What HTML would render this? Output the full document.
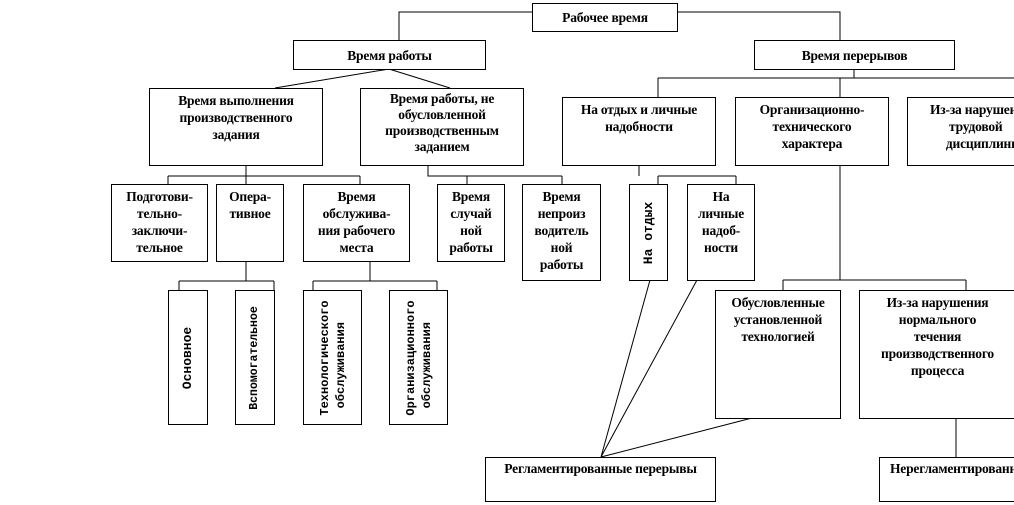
<!DOCTYPE html>
<html><head><meta charset="utf-8"><style>
body{margin:0;width:1014px;height:505px;background:#fff;overflow:hidden;position:relative;font-family:"Liberation Serif",serif;}
.b{position:absolute;border:1px solid #000;box-sizing:border-box;background:#fff;text-align:center;font-weight:bold;font-size:13.5px;line-height:17px;padding-top:3px;letter-spacing:-0.2px;white-space:nowrap;}
.v{position:absolute;border:1px solid #000;box-sizing:border-box;background:#fff;}
.v span{position:absolute;left:50%;top:50%;transform:translate(-50%,-50%) rotate(-90deg);font-family:"Liberation Mono",monospace;font-size:13px;line-height:16px;white-space:nowrap;text-align:left;font-weight:bold;}
svg{position:absolute;left:0;top:0;}
</style></head><body>
<svg width="1014" height="505" stroke="#000" stroke-width="1" fill="none">
<path d="M532 12H399V40M677 12H840V40"/>
<path d="M389 69L275 88M389 69L450 88"/>
<path d="M854 69V78M658 78H1014M658 78V97M840 78V97"/>
<path d="M246 165V176M168 176H360M168 176V184M246 176V184M360 176V184"/>
<path d="M428 165V176H562M467 176V184M562 176V184"/>
<path d="M639 165V176M658 176H736M658 176V184M736 176V184"/>
<path d="M840 165V280M783 280H966M783 280V290M966 280V290"/>
<path d="M246 262V281M179 281H274M179 281V290M274 281V290"/>
<path d="M370 262V281M313 281H437M313 281V290M437 281V290"/>
<path d="M601 457L650 280M601 457L697 280M601 457L752 418"/>
<path d="M956 418V457"/>
</svg>
<div class="b" style="left:532px;top:3px;width:146px;height:29px;padding-top:5px">Рабочее время</div>
<div class="b" style="left:293px;top:40px;width:193px;height:30px;padding-top:6px">Время работы</div>
<div class="b" style="left:754px;top:40px;width:201px;height:30px;padding-top:6px">Время перерывов</div>
<div class="b" style="left:149px;top:88px;width:174px;height:78px">Время выполнения<br>производственного<br>задания</div>
<div class="b" style="left:360px;top:88px;width:164px;height:78px;line-height:16px;padding-top:2px">Время работы, не<br>обусловленной<br>производственным<br>заданием</div>
<div class="b" style="left:562px;top:97px;width:154px;height:69px">На отдых и личные<br>надобности</div>
<div class="b" style="left:735px;top:97px;width:154px;height:69px">Организационно-<br>технического<br>характера</div>
<div class="b" style="left:907px;top:97px;width:130px;height:69px;text-align:left;padding-left:22px">Из-за нарушения<br>&nbsp;&nbsp;&nbsp;&nbsp;&nbsp;&nbsp;трудовой<br>&nbsp;&nbsp;&nbsp;&nbsp;&nbsp;дисциплины</div>
<div class="b" style="left:111px;top:184px;width:97px;height:78px">Подготови-<br>тельно-<br>заключи-<br>тельное</div>
<div class="b" style="left:216px;top:184px;width:68px;height:78px">Опера-<br>тивное</div>
<div class="b" style="left:303px;top:184px;width:107px;height:78px">Время<br>обслужива-<br>ния рабочего<br>места</div>
<div class="b" style="left:437px;top:184px;width:68px;height:78px">Время<br>случай<br>ной<br>работы</div>
<div class="b" style="left:522px;top:184px;width:79px;height:97px">Время<br>непроиз<br>водитель<br>ной<br>работы</div>
<div class="v" style="left:629px;top:184px;width:39px;height:97px"><span>На отдых</span></div>
<div class="b" style="left:687px;top:184px;width:68px;height:97px">На<br>личные<br>надоб-<br>ности</div>
<div class="v" style="left:168px;top:290px;width:40px;height:135px"><span>Основное</span></div>
<div class="v" style="left:235px;top:290px;width:40px;height:135px"><span style="font-size:11.5px">Вспомогательное</span></div>
<div class="v" style="left:303px;top:290px;width:59px;height:135px"><span style="font-size:12px">Технологического<br>&nbsp;обслуживания</span></div>
<div class="v" style="left:389px;top:290px;width:59px;height:135px"><span style="font-size:12px">Организационного<br>&nbsp;обслуживания</span></div>
<div class="b" style="left:715px;top:290px;width:126px;height:129px">Обусловленные<br>установленной<br>технологией</div>
<div class="b" style="left:859px;top:290px;width:160px;height:129px;text-align:left;padding-left:0"><div style="width:155px;text-align:center">Из-за нарушения<br>нормального<br>течения<br>производственного<br>процесса</div></div>
<div class="b" style="left:485px;top:457px;width:231px;height:45px;padding-top:2px">Регламентированные перерывы</div>
<div class="b" style="left:879px;top:457px;width:150px;height:45px;padding-top:2px;text-align:left;padding-left:10px">Нерегламентированные</div>
</body></html>
